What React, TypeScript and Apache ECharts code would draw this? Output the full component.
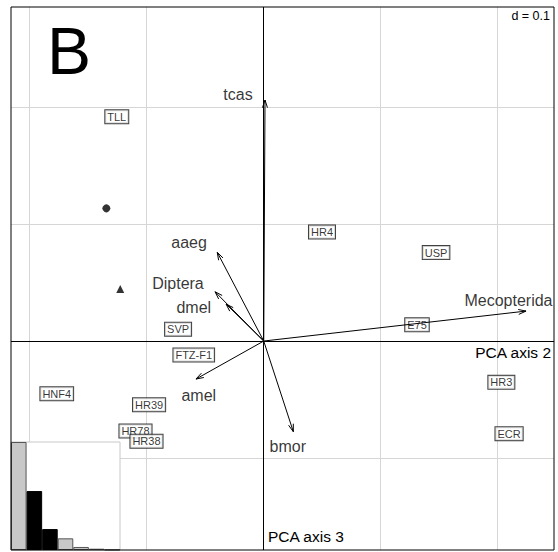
import React, { useEffect, useRef } from "react";
import * as echarts from "echarts";

// Row scores (boxed labels)
const pointNames = ["TLL", "HR4", "USP", "SVP", "E75", "FTZ-F1", "HNF4", "HR39", "HR78", "HR38", "HR3", "ECR"];
const pointX = [-0.1256, 0.0498, 0.1473, -0.0732, 0.131, -0.0598, -0.1769, -0.098, -0.1096, -0.1002, 0.2031, 0.2097];
const pointY = [0.1917, 0.0932, 0.0756, 0.0101, 0.0139, -0.012, -0.0451, -0.0544, -0.0769, -0.0857, -0.0353, -0.0792];

// Variable arrows
const arrowNames = ["tcas", "aaeg", "Diptera", "dmel", "amel", "bmor", "Mecopterida"];
const arrowX = [0.0011, -0.0397, -0.0416, -0.0322, -0.0579, 0.0253, 0.2242];
const arrowY = [0.206, 0.0758, 0.0421, 0.0316, -0.0325, -0.0775, 0.0256];
const arrowLabelX = [-0.022, -0.0638, -0.0733, -0.0598, -0.0555, 0.0206, 0.2092];
const arrowLabelY = [0.2103, 0.0846, 0.0493, 0.0288, -0.0462, -0.0903, 0.035];

// Extra symbols
const circleXY = [-0.1345, 0.1134];
const triangleXY = [-0.1226, 0.0445];

// Grid lines (d = 0.1)
const gridX = [-0.2, -0.1, 0, 0.1, 0.2];
const gridY = [-0.1, 0, 0.1, 0.2];

// Axis limits
const xMin = -0.216;
const xMax = 0.2481;
const yMin = -0.1786;
const yMax = 0.2855;

// Eigenvalues (inset)
const eigenValues = [1.0, 0.546, 0.194, 0.108, 0.028, 0.012, 0.003];
const eigenShown = [false, true, true, false, false, false, false];

const FONT = '"Liberation Sans", Arial, Helvetica, sans-serif';

export default function App() {
  const ref = useRef<HTMLDivElement>(null);

  useEffect(() => {
    document.body.style.margin = "0";
    if (!ref.current) return;
    const chart = echarts.init(ref.current, null, { renderer: "svg" });

    const gridData = [
      ...gridX.map((v) => [0, v]),
      ...gridY.map((v) => [1, v]),
    ];

    const crisp = (v: number) => Math.round(v - 0.5) + 0.5;

    const option: any = {
      animation: false,
      backgroundColor: "#fff",
      textStyle: { fontFamily: FONT },
      grid: [
        {
          left: 11,
          top: 7,
          width: 543,
          height: 543,
          show: true,
          backgroundColor: "transparent",
          borderColor: "#000",
          borderWidth: 1,
          z: 30,
        },
        {
          left: 11,
          top: 442,
          width: 109,
          height: 108,
          show: true,
          backgroundColor: "#fff",
          borderColor: "#c8c8c8",
          borderWidth: 1,
          z: 20,
        },
      ],
      xAxis: [
        { type: "value", gridIndex: 0, min: xMin, max: xMax, show: false },
        {
          type: "category",
          gridIndex: 1,
          data: eigenValues.map((_, i) => String(i + 1)),
          show: false,
          boundaryGap: true,
        },
      ],
      yAxis: [
        { type: "value", gridIndex: 0, min: yMin, max: yMax, show: false },
        { type: "value", gridIndex: 1, min: 0, max: eigenValues[0], show: false },
      ],
      series: [
        {
          type: "custom",
          name: "grid",
          xAxisIndex: 0,
          yAxisIndex: 0,
          z: 1,
          silent: true,
          data: gridData,
          renderItem: (params: any, api: any) => {
            const dir = api.value(0);
            const v = api.value(1);
            const cs = params.coordSys;
            const color = v === 0 ? "#000" : "#d6d6d6";
            if (dir === 0) {
              const p = api.coord([v, 0]);
              const x = crisp(p[0]);
              return {
                type: "line",
                shape: { x1: x, y1: cs.y, x2: x, y2: cs.y + cs.height },
                style: { stroke: color, lineWidth: 1 },
                z2: v === 0 ? 2 : 1,
              };
            }
            const p = api.coord([0, v]);
            const y = crisp(p[1]);
            return {
              type: "line",
              shape: { x1: cs.x, y1: y, x2: cs.x + cs.width, y2: y },
              style: { stroke: color, lineWidth: 1 },
              z2: v === 0 ? 2 : 1,
            };
          },
        },
        {
          type: "scatter",
          name: "points",
          xAxisIndex: 0,
          yAxisIndex: 0,
          z: 5,
          symbolSize: 0,
          silent: true,
          data: pointNames.map((n, i) => ({ name: n, value: [pointX[i], pointY[i]] })),
          label: {
            show: true,
            position: "inside",
            formatter: "{b}",
            color: "#000",
            fontSize: 11,
            lineHeight: 11,
            fontFamily: FONT,
            backgroundColor: "#fff",
            borderColor: "#111",
            borderWidth: 1,
            padding: [1, 2, 1, 2],
          },
        },
        {
          type: "scatter",
          name: "circle",
          xAxisIndex: 0,
          yAxisIndex: 0,
          z: 6,
          symbol: "circle",
          symbolSize: 8,
          itemStyle: { color: "#000" },
          data: [circleXY],
        },
        {
          type: "scatter",
          name: "triangle",
          xAxisIndex: 0,
          yAxisIndex: 0,
          z: 6,
          symbol: "triangle",
          symbolSize: 8,
          itemStyle: { color: "#000" },
          data: [triangleXY],
        },
        {
          type: "custom",
          name: "arrows",
          xAxisIndex: 0,
          yAxisIndex: 0,
          z: 7,
          silent: true,
          data: arrowNames.map((n, i) => [arrowX[i], arrowY[i]]),
          renderItem: (params: any, api: any) => {
            const o = api.coord([0, 0]);
            const t = api.coord([api.value(0), api.value(1)]);
            const ang = Math.atan2(t[1] - o[1], t[0] - o[0]);
            const L = 8;
            const a = Math.PI / 10;
            const h1 = [t[0] - L * Math.cos(ang - a), t[1] - L * Math.sin(ang - a)];
            const h2 = [t[0] - L * Math.cos(ang + a), t[1] - L * Math.sin(ang + a)];
            return {
              type: "group",
              children: [
                {
                  type: "line",
                  shape: { x1: o[0], y1: o[1], x2: t[0], y2: t[1] },
                  style: { stroke: "#000", lineWidth: 1 },
                },
                {
                  type: "polyline",
                  shape: { points: [h1, t, h2] },
                  style: { stroke: "#000", fill: null, lineWidth: 1 },
                },
              ],
            };
          },
        },
        {
          type: "scatter",
          name: "arrowLabels",
          xAxisIndex: 0,
          yAxisIndex: 0,
          z: 8,
          symbolSize: 0,
          silent: true,
          data: arrowNames.map((n, i) => ({ name: n, value: [arrowLabelX[i], arrowLabelY[i]] })),
          label: {
            show: true,
            position: "inside",
            formatter: "{b}",
            color: "#000",
            fontSize: 16,
            fontFamily: FONT,
          },
        },
        {
          type: "bar",
          name: "eigen",
          xAxisIndex: 1,
          yAxisIndex: 1,
          z: 21,
          silent: true,
          barCategoryGap: "0%",
          data: eigenValues.map((v, i) => ({
            value: v,
            itemStyle: eigenShown[i]
              ? { color: "#000", borderColor: "#000", borderWidth: 1 }
              : { color: "#c8c8c8", borderColor: "#555", borderWidth: 1 },
          })),
        },
      ],
      graphic: [
        {
          type: "text",
          z: 40,
          x: 69,
          y: 51,
          style: {
            text: "B",
            fontSize: 66,
            fontFamily: FONT,
            fill: "#000",
            align: "center",
            verticalAlign: "middle",
          },
        },
        {
          type: "text",
          z: 40,
          x: 550,
          y: 16,
          style: {
            text: "d = 0.1",
            fontSize: 12.5,
            fontFamily: FONT,
            fill: "#000",
            align: "right",
            verticalAlign: "middle",
          },
        },
        {
          type: "text",
          z: 40,
          x: 551,
          y: 352,
          style: {
            text: "PCA axis 2",
            fontSize: 15.5,
            fontFamily: FONT,
            fill: "#000",
            align: "right",
            verticalAlign: "middle",
          },
        },
        {
          type: "text",
          z: 40,
          x: 268,
          y: 536,
          style: {
            text: "PCA axis 3",
            fontSize: 15.5,
            fontFamily: FONT,
            fill: "#000",
            align: "left",
            verticalAlign: "middle",
          },
        },
      ],
    };

    chart.setOption(option);
    return () => {
      chart.dispose();
    };
  }, []);

  return <div ref={ref} style={{ width: 558, height: 552 }} />;
}
